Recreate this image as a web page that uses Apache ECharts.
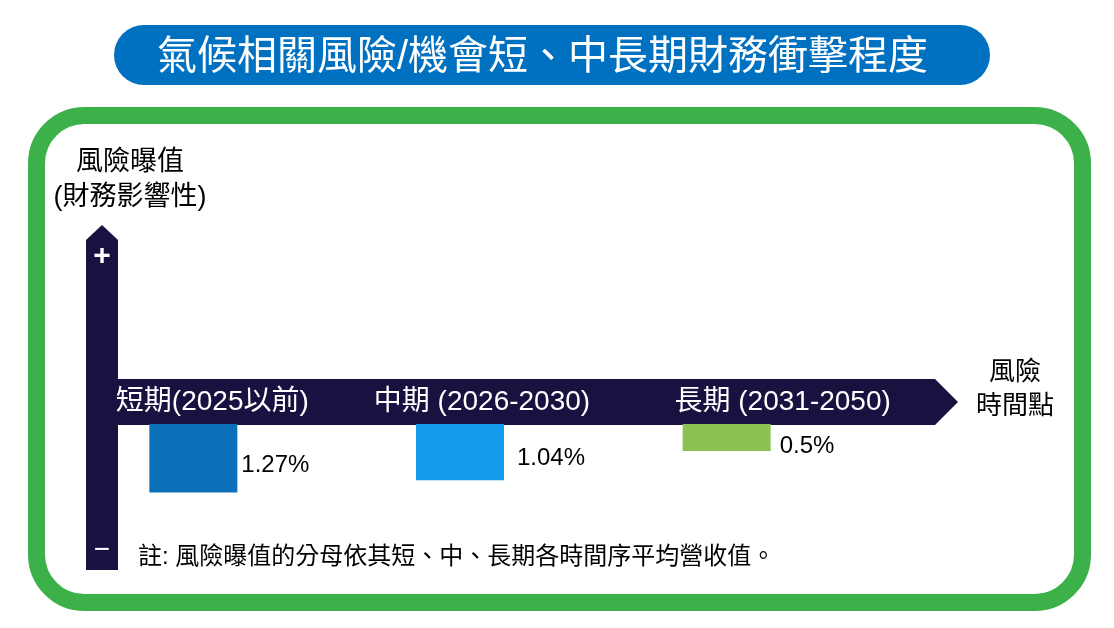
<!DOCTYPE html>
<html><head><meta charset="utf-8">
<script src="https://cdn.jsdelivr.net/npm/echarts@6/dist/echarts.min.js"></script>
<style>html,body{margin:0;padding:0;background:#fff}#c{width:1114px;height:628px}</style>
</head><body><div id="c"></div>
<script>
const titleText = '氣候相關風險/機會短、中長期財務衝擊程度';
const categories = ['短期(2025以前)', '中期 (2026-2030)', '長期 (2031-2050)'];
const values = [1.27, 1.04, 0.5];
const barColors = ['#0B70B7', '#139CEB', '#8CC152'];
const yAxisTitle = ['風險曝值', '(財務影響性)'];
const xAxisTitle = ['風險', '時間點'];
const noteText = '註: 風險曝值的分母依其短、中、長期各時間序平均營收值。';
const labelShift = [38, 44, 112];
const valueLabelOffset = [[-1, 7], [8, 6], [4, 9]];

const FONT = "'Liberation Sans', 'Noto Sans CJK TC', sans-serif";
const NAVY = '#17123F';

const rich = {};
labelShift.forEach((p, i) => {
  rich['c' + i] = { color: '#fff', fontSize: 28, fontFamily: FONT, padding: [0, 0, 0, p] };
});

const chart = echarts.init(document.getElementById('c'), null, { renderer: 'canvas' });
chart.setOption({
  backgroundColor: '#fff',
  animation: false,
  title: {
    text: titleText, left: 152, top: 33,
    textStyle: { color: '#fff', fontSize: 40, fontWeight: 'normal', fontFamily: FONT }
  },
  grid: { left: 60, width: 800, top: 424, height: 135 },
  xAxis: {
    type: 'category', data: categories, position: 'top', z: 10,
    axisLine: { show: false }, axisTick: { show: false }, splitLine: { show: false },
    axisLabel: {
      margin: 8, interval: 0,
      formatter: (v, i) => '{c' + i + '|' + v + '}',
      rich: rich
    }
  },
  yAxis: { type: 'value', inverse: true, min: 0, max: 2.5, show: false },
  series: [{
    type: 'bar', barWidth: 88, z: 2,
    data: values.map((v, i) => ({ value: v, itemStyle: { color: barColors[i] }, label: { offset: valueLabelOffset[i] } })),
    label: {
      show: true, position: 'right',
      formatter: p => p.value + '%',
      color: '#000', fontSize: 24, fontFamily: FONT
    }
  }],
  graphic: [
    { type: 'rect', z: 0, shape: { x: 36.5, y: 115.5, width: 1046, height: 487, r: 48 },
      style: { fill: '#fff', stroke: '#3CB14A', lineWidth: 17 } },
    { type: 'rect', z: 0, shape: { x: 114, y: 25, width: 876, height: 60, r: 30 },
      style: { fill: '#0070C0' } },
    { type: 'polygon', z: 1, shape: { points: [[86, 240], [102, 225], [118, 240], [118, 570], [86, 570]] },
      style: { fill: NAVY } },
    { type: 'polygon', z: 1, shape: { points: [[110, 379], [935, 379], [958, 402], [935, 425], [110, 425]] },
      style: { fill: NAVY } },
    { type: 'text', z: 3, x: 102, y: 257, style: { text: '+', fill: '#fff', fontSize: 30, fontWeight: 'bold', fontFamily: FONT, align: 'center', verticalAlign: 'middle' } },
    { type: 'text', z: 3, x: 102, y: 550, style: { text: '−', fill: '#fff', fontSize: 28, fontFamily: FONT, align: 'center', verticalAlign: 'middle' } },
    { type: 'text', z: 3, x: 130, y: 163, style: { text: yAxisTitle[0], fill: '#000', fontSize: 27, fontFamily: FONT, align: 'center', verticalAlign: 'middle' } },
    { type: 'text', z: 3, x: 130, y: 198, style: { text: yAxisTitle[1], fill: '#000', fontSize: 27, fontFamily: FONT, align: 'center', verticalAlign: 'middle' } },
    { type: 'text', z: 3, x: 1015, y: 373, style: { text: xAxisTitle[0], fill: '#000', fontSize: 26, fontFamily: FONT, align: 'center', verticalAlign: 'middle' } },
    { type: 'text', z: 3, x: 1015, y: 407, style: { text: xAxisTitle[1], fill: '#000', fontSize: 26, fontFamily: FONT, align: 'center', verticalAlign: 'middle' } },
    { type: 'text', z: 3, x: 138, y: 557, style: { text: noteText, fill: '#000', fontSize: 24, fontFamily: FONT, align: 'left', verticalAlign: 'middle' } }
  ]
});
</script></body></html>
